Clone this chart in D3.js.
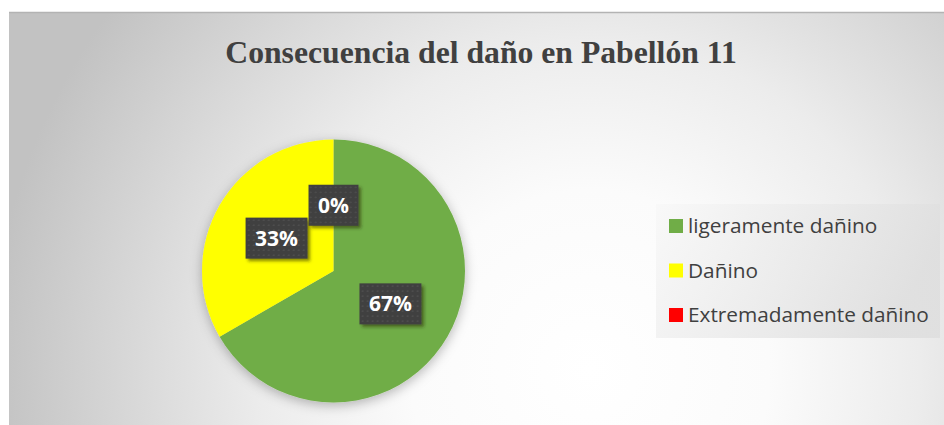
<!DOCTYPE html>
<html>
<head>
<meta charset="utf-8">
<script src="https://cdn.jsdelivr.net/npm/d3@7"></script>
<style>
  html, body { margin: 0; padding: 0; background: #ffffff; }
  svg { display: block; }
</style>
</head>
<body>
<svg id="chart" width="944" height="425"></svg>
<script>
// Chart data
const categories = ["ligeramente dañino", "Dañino", "Extremadamente dañino"];
const counts = [2, 1, 0];
const percentLabels = ["67%", "33%", "0%"];
const sliceColors = ["#70AD47", "#FFFF00", "#FF0000"];
const titleText = "Consecuencia del daño en Pabellón 11";

const W = 944, H = 425;
const svg = d3.select("#chart");
const defs = svg.append("defs");

// Chart area background: soft radial gradient
const bg = defs.append("radialGradient")
  .attr("id", "bgGrad")
  .attr("gradientUnits", "userSpaceOnUse")
  .attr("cx", 590).attr("cy", 370).attr("r", 600);
bg.append("stop").attr("offset", 0).attr("stop-color", "#ffffff");
bg.append("stop").attr("offset", 0.3).attr("stop-color", "#fbfbfb");
bg.append("stop").attr("offset", 0.55).attr("stop-color", "#ececec");
bg.append("stop").attr("offset", 1).attr("stop-color", "#c2c2c2");

// Legend background
const lg = defs.append("linearGradient")
  .attr("id", "legGrad").attr("x1", 0).attr("y1", 0).attr("x2", 1).attr("y2", 0.3);
lg.append("stop").attr("offset", 0).attr("stop-color", "#f8f8f8");
lg.append("stop").attr("offset", 1).attr("stop-color", "#dedede");

// Dotted fill for the data label boxes
const pat = defs.append("pattern")
  .attr("id", "dots").attr("patternUnits", "userSpaceOnUse")
  .attr("width", 5).attr("height", 5);
pat.append("rect").attr("width", 5).attr("height", 5).attr("fill", "#3f3f3f");
pat.append("rect").attr("x", 1.5).attr("y", 1.5).attr("width", 1.4).attr("height", 1.4).attr("fill", "#565656");

// Shadows
const pieShadow = defs.append("filter").attr("id", "pieShadow")
  .attr("x", "-30%").attr("y", "-30%").attr("width", "160%").attr("height", "160%");
pieShadow.append("feDropShadow").attr("dx", 0).attr("dy", 3)
  .attr("stdDeviation", 6).attr("flood-color", "#000").attr("flood-opacity", 0.28);

const boxShadow = defs.append("filter").attr("id", "boxShadow")
  .attr("x", "-30%").attr("y", "-30%").attr("width", "160%").attr("height", "160%");
boxShadow.append("feDropShadow").attr("dx", 2.5).attr("dy", 2.5)
  .attr("stdDeviation", 1.6).attr("flood-color", "#2a2a00").attr("flood-opacity", 0.55);

// Chart area
const area = { x: 9, y: 12, w: W - 9, h: H - 12 };
svg.append("rect")
  .attr("x", area.x).attr("y", area.y)
  .attr("width", area.w).attr("height", area.h)
  .attr("fill", "url(#bgGrad)");
svg.append("line")
  .attr("x1", area.x).attr("x2", W)
  .attr("y1", area.y + 0.5).attr("y2", area.y + 0.5)
  .attr("stroke", "#b3b3b3").attr("stroke-width", 1.5);

// Title
svg.append("text")
  .attr("x", 481).attr("y", 63)
  .attr("text-anchor", "middle")
  .attr("font-family", "'Liberation Serif', 'Times New Roman', serif")
  .attr("font-weight", "bold")
  .attr("font-size", 31.7)
  .attr("fill", "#404040")
  .text(titleText);

// Pie
const cx = 333.5, cy = 271, radius = 131.5;
const data = categories.map((c, i) => ({ cat: c, value: counts[i], label: percentLabels[i], color: sliceColors[i] }));
const pie = d3.pie().sort(null).value(d => d.value);
const arcs = pie(data);
const arc = d3.arc().innerRadius(0).outerRadius(radius);
const labelArc = d3.arc().innerRadius(radius * 0.5).outerRadius(radius * 0.5);

const pieG = svg.append("g").attr("transform", `translate(${cx},${cy})`);
pieG.append("g").attr("filter", "url(#pieShadow)")
  .selectAll("path")
  .data(arcs.filter(a => a.value > 0))
  .join("path")
  .attr("d", arc)
  .attr("fill", d => d.data.color);

// Data labels
const labelFont = "'Open Sans', 'Noto Sans', sans-serif";
const labels = pieG.append("g").selectAll("g")
  .data(arcs)
  .join("g")
  .attr("transform", d => {
    const [x, y] = labelArc.centroid(d);
    return `translate(${x},${y})`;
  });
labels.each(function(d) {
  const g = d3.select(this);
  const rect = g.append("rect").attr("fill", "url(#dots)").attr("filter", "url(#boxShadow)");
  const t = g.append("text")
    .attr("text-anchor", "middle")
    .attr("dy", "0.36em")
    .attr("font-family", labelFont)
    .attr("font-weight", "bold")
    .attr("font-size", 21)
    .attr("fill", "#ffffff")
    .text(d.data.label);
  const tw = t.node().getComputedTextLength();
  const bw = tw + 19, bh = 41;
  rect.attr("x", -bw / 2).attr("y", -bh / 2).attr("width", bw).attr("height", bh);
});

// Legend
const legX = 656, legY = 204, legW = W - 4 - legX, legH = 134;
svg.append("rect")
  .attr("x", legX).attr("y", legY).attr("width", legW).attr("height", legH)
  .attr("fill", "url(#legGrad)").attr("opacity", 0.85);

const rowY = d3.scalePoint().domain(categories).range([226, 315]);
const legend = svg.append("g").selectAll("g")
  .data(data)
  .join("g")
  .attr("transform", d => `translate(669,${rowY(d.cat)})`);
legend.append("rect")
  .attr("x", 0).attr("y", -7).attr("width", 14).attr("height", 14)
  .attr("fill", d => d.color);
legend.append("text")
  .attr("x", 19).attr("y", 0).attr("dy", "0.35em")
  .attr("font-family", labelFont)
  .attr("font-size", 20.8)
  .attr("fill", "#404040")
  .text(d => d.cat);
</script>
</body>
</html>
